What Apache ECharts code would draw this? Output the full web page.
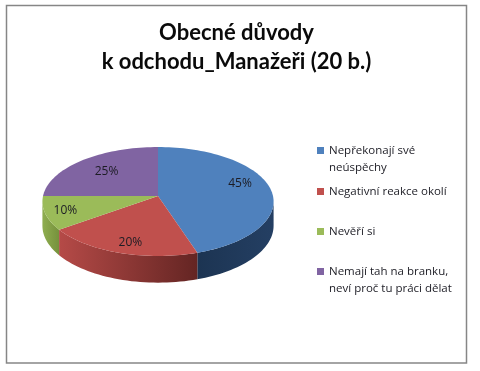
<!DOCTYPE html>
<html><head><meta charset="utf-8">
<style>html,body{margin:0;padding:0;background:#fff}#c{width:480px;height:371px}</style>
<script src="https://cdn.jsdelivr.net/npm/echarts@6/dist/echarts.min.js"></script>
</head><body><div id="c"></div>
<script>
const categories = ["Nepřekonají své\nneúspěchy", "Negativní reakce okolí", "Nevěří si", "Nemají tah na branku,\nneví proč tu práci dělat"];
const values = [45, 20, 10, 25];
const colors = ["#4f81bd", "#c0504d", "#9bbb59", "#8064a2"];
const sideStops = [["#1c3452", "#243f63"], ["#b54a47", "#642523"], ["#8fae50", "#76913c"], ["#5f4a7a", "#5f4a7a"]];
const legendTops = [125, 183, 223, 246];
const labelShift = [[9, -7], [-3, 11], [-20, 4], [-1, -1]];

const geo = {x0: 158, y0: 196, a: 115, b: 53.9, p: 0.101, depth: 24};
const sideRange = [0.266, 0.734];
const total = values.reduce((s, v) => s + v, 0);
function project(fr, r, down) {
  const t = fr * 2 * Math.PI;
  const u = Math.sin(t) * r, v = -Math.cos(t) * r;
  const s = 1 / (1 - geo.p * v);
  return [geo.x0 + geo.a * u * s, geo.y0 + geo.b * v * s + (down ? geo.depth * s : 0)];
}
function arc(f0, f1, down) {
  const n = Math.max(8, Math.ceil((f1 - f0) * 180)), pts = [];
  for (let i = 0; i <= n; i++) pts.push(project(f0 + (f1 - f0) * i / n, 1, down));
  return pts;
}
function renderSlice(idx) {
  return function (params, api) {
    const before = values.slice(0, idx).reduce((s, v) => s + v, 0);
    const f0 = before / total, f1 = (before + api.value(0)) / total;
    const top = arc(f0, f1, false);
    const c = project(0, 0, false);
    const mid = project((f0 + f1) / 2, 0.65, false);
    const children = [
      {type: 'polygon', z2: 2, shape: {points: [c].concat(top)}, style: {fill: colors[idx]}},
      {type: 'text', z2: 3, x: mid[0] + labelShift[idx][0], y: mid[1] + labelShift[idx][1],
        style: {text: Math.round(api.value(0) / total * 100) + '%', fill: '#1c1c24',
          font: '12px "Open Sans"', align: 'center', verticalAlign: 'middle'}}
    ];
    const s0 = Math.max(f0, sideRange[0]), s1 = Math.min(f1, sideRange[1]);
    if (s1 > s0) {
      const up = arc(s0, s1, false), low = arc(s0, s1, true).reverse();
      const xs = up.map(p => p[0]);
      const grad = new echarts.graphic.LinearGradient(Math.min(...xs), 0, Math.max(...xs), 0,
        [{offset: 0, color: sideStops[idx][0]}, {offset: 1, color: sideStops[idx][1]}], true);
      children.unshift({type: 'polygon', z2: 1, shape: {points: up.concat(low)}, style: {fill: grad}});
    }
    return {type: 'group', children: children};
  };
}
const chart = echarts.init(document.getElementById('c'), null, {renderer: 'canvas'});
chart.setOption({
  animation: false,
  backgroundColor: '#fff',
  title: {
    text: 'Obecné důvody\nk odchodu_Manažeři (20 b.)',
    left: 231.5, top: 13, textAlign: 'center',
    textStyle: {fontFamily: 'Lato', fontWeight: 'bold', fontSize: 22, lineHeight: 29, color: '#0a0a0a'}
  },
  graphic: [{type: 'rect', shape: {x: 6.5, y: 5.5, width: 460, height: 357.5},
    style: {fill: 'none', stroke: '#868686', lineWidth: 1.5}, z: 0}],
  legend: categories.map((name, i) => ({
    data: [name], left: 317, top: legendTops[i], orient: 'vertical',
    itemWidth: 7, itemHeight: 7, selectedMode: false, padding: 0,
    icon: 'rect',
    formatter: n => n.indexOf('\n') >= 0 ? '\n' + n : n,
    textStyle: {fontFamily: 'Open Sans', fontSize: 11.5, lineHeight: 17, color: '#1c1c24'}
  })),
  series: categories.map((name, i) => ({
    type: 'custom', name: name, coordinateSystem: 'none', z: 2,
    itemStyle: {color: colors[i]},
    renderItem: renderSlice(i),
    data: [[values[i]]]
  }))
});
</script></body></html>
